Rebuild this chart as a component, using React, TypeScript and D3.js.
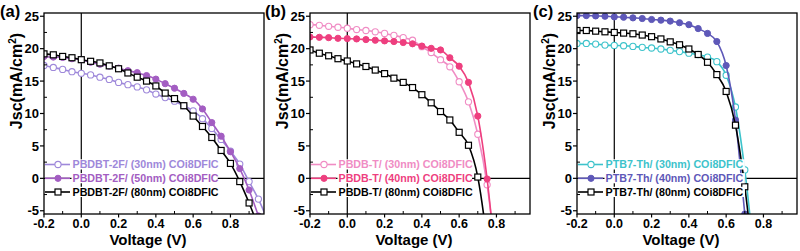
import React from 'react';
import * as d3 from 'd3';

// ---------- DATA ----------
const V_A = [-0.2, -0.15, -0.1, -0.05, 0, 0.05, 0.1, 0.15, 0.2, 0.25, 0.3, 0.35, 0.4, 0.45, 0.5, 0.55, 0.6, 0.65, 0.7, 0.75, 0.8, 0.85, 0.9, 0.95, 1.0];
const J_A30 = [17.4, 17.1, 16.8, 16.45, 16.2, 15.95, 15.6, 15.25, 14.8, 14.45, 14.1, 13.65, 13.0, 12.45, 11.9, 11.2, 10.4, 9.2, 7.7, 6.0, 4.2, 2.2, -0.5, -3.2, -6.5];
const J_A50 = [18.8, 18.7, 18.65, 18.45, 18.3, 17.9, 17.6, 17.3, 17.0, 16.6, 16.3, 15.85, 15.3, 14.6, 13.9, 13.1, 12.2, 10.7, 8.6, 6.5, 4.1, 1.5, -1.8, -5.8, -10.0];
const J_A80 = [19.2, 19.05, 18.8, 18.6, 18.3, 18.05, 17.8, 17.35, 16.9, 16.25, 15.6, 15.0, 14.25, 13.15, 12.3, 11.2, 9.6, 8.0, 6.3, 4.3, 2.3, -0.5, -3.8, -7.5, -11.5];

const V_B = [-0.2, -0.15, -0.1, -0.05, 0, 0.05, 0.1, 0.15, 0.2, 0.25, 0.3, 0.35, 0.4, 0.45, 0.5, 0.55, 0.6, 0.65, 0.7, 0.75, 0.8];
const J_B30 = [23.7, 23.6, 23.45, 23.3, 23.15, 22.95, 22.8, 22.6, 22.35, 22.05, 21.7, 21.3, 20.3, 19.4, 18.3, 17.2, 14.9, 11.8, 6.8, -1.0, -13.0];
const J_B40 = [21.8, 21.75, 21.7, 21.6, 21.55, 21.5, 21.4, 21.3, 21.2, 21.1, 20.95, 20.75, 20.4, 20.05, 19.8, 18.6, 17.3, 14.8, 9.6, -0.1, -14.0];
const J_B80 = [19.8, 19.3, 18.9, 18.45, 18.1, 17.65, 17.25, 16.7, 16.15, 15.45, 14.8, 14.0, 12.9, 11.65, 10.3, 9.0, 7.1, 5.1, 0.2, -10.0, -25.0];

const V_C = [-0.2, -0.15, -0.1, -0.05, 0, 0.05, 0.1, 0.15, 0.2, 0.25, 0.3, 0.35, 0.4, 0.45, 0.5, 0.55, 0.6, 0.65, 0.7, 0.75];
const J_C30 = [20.8, 20.8, 20.7, 20.55, 20.5, 20.45, 20.35, 20.2, 20.1, 19.95, 19.75, 19.55, 19.3, 19.1, 18.7, 18.0, 15.9, 11.0, 1.3, -12.0];
const J_C40 = [25.1, 25.1, 25.05, 25.0, 24.9, 24.85, 24.75, 24.65, 24.5, 24.4, 24.25, 24.0, 23.7, 23.1, 22.35, 21.1, 17.4, 9.0, -5.5, -20.0];
const J_C80 = [22.8, 22.8, 22.7, 22.6, 22.5, 22.4, 22.3, 22.1, 21.85, 21.5, 21.05, 20.6, 19.95, 19.1, 17.9, 16.0, 13.4, 8.2, -1.3, -14.0];

const LABELS_A = ['PBDBT-2F/ (30nm) COi8DFIC', 'PBDBT-2F/ (50nm) COi8DFIC', 'PBDBT-2F/ (80nm) COi8DFIC'];
const LABELS_B = ['PBDB-T/ (30nm) COi8DFIC', 'PBDB-T/ (40nm) COi8DFIC', 'PBDB-T/ (80nm) COi8DFIC'];
const LABELS_C = ['PTB7-Th/ (30nm) COi8DFIC', 'PTB7-Th/ (40nm) COi8DFIC', 'PTB7-Th/ (80nm) COi8DFIC'];

const X_TICKS = [-0.2, 0, 0.2, 0.4, 0.6, 0.8];
const X_MINOR = [-0.1, 0.1, 0.3, 0.5, 0.7, 0.9];
const Y_TICKS = [-5, 0, 5, 10, 15, 20, 25];
const Y_MINOR = [-2.5, 2.5, 7.5, 12.5, 17.5, 22.5];

// ---------- LAYOUT ----------
const W = 800, H = 251;
const TOP = 13, BOTTOM = 214, PW = 220;
const X_DOMAIN: [number, number] = [-0.2, 0.98];
const Y_DOMAIN: [number, number] = [-5.5, 25.5];
const FONT = "'Liberation Sans', Arial, Helvetica, sans-serif";
const LEG_ROWS = [164.5, 178.3, 192];

type Marker = 'openCircle' | 'filledCircle' | 'openSquare';
interface Series { J: number[]; color: string; marker: Marker; label: string; }

const PANELS = [
  {
    left: 44, tag: '(a)', tagX: 0, V: V_A,
    series: [
      { J: J_A30, color: '#9E88DA', marker: 'openCircle', label: LABELS_A[0] },
      { J: J_A50, color: '#A35DC2', marker: 'filledCircle', label: LABELS_A[1] },
      { J: J_A80, color: '#000000', marker: 'openSquare', label: LABELS_A[2] },
    ] as Series[],
  },
  {
    left: 310, tag: '(b)', tagX: 265, V: V_B,
    series: [
      { J: J_B30, color: '#F08CC4', marker: 'openCircle', label: LABELS_B[0] },
      { J: J_B40, color: '#EE3F7F', marker: 'filledCircle', label: LABELS_B[1] },
      { J: J_B80, color: '#000000', marker: 'openSquare', label: LABELS_B[2] },
    ] as Series[],
  },
  {
    left: 577, tag: '(c)', tagX: 533, V: V_C,
    series: [
      { J: J_C30, color: '#3DC3CB', marker: 'openCircle', label: LABELS_C[0] },
      { J: J_C40, color: '#5E58B8', marker: 'filledCircle', label: LABELS_C[1] },
      { J: J_C80, color: '#000000', marker: 'openSquare', label: LABELS_C[2] },
    ] as Series[],
  },
];

function MarkerShape({ type, cx, cy, color }: { type: Marker; cx: number; cy: number; color: string }) {
  if (type === 'openSquare') {
    return <rect x={cx - 3} y={cy - 3} width={6} height={6} fill="#fff" stroke={color} strokeWidth={1.2} />;
  }
  if (type === 'filledCircle') {
    return <circle cx={cx} cy={cy} r={3.1} fill={color} stroke={color} strokeWidth={1} />;
  }
  return <circle cx={cx} cy={cy} r={3.1} fill="#fff" stroke={color} strokeWidth={1.1} />;
}

function Panel({ idx, left, tag, tagX, V, series }: { idx: number; left: number; tag: string; tagX: number; V: number[]; series: Series[] }) {
  const x = d3.scaleLinear().domain(X_DOMAIN).range([left, left + PW]);
  const y = d3.scaleLinear().domain(Y_DOMAIN).range([BOTTOM, TOP]);
  const clipId = `clip-${idx}`;
  const right = left + PW;
  return (
    <g>
      <defs>
        <clipPath id={clipId}>
          <rect x={left} y={TOP} width={PW} height={BOTTOM - TOP} />
        </clipPath>
      </defs>
      {/* zero lines */}
      <line x1={x(0)} x2={x(0)} y1={TOP} y2={BOTTOM} stroke="#000" strokeWidth={1.2} />
      <line x1={left} x2={right} y1={y(0)} y2={y(0)} stroke="#000" strokeWidth={1.2} />

      {/* curves */}
      <g clipPath={`url(#${clipId})`}>
        {series.map((s, si) => {
          const line = d3.line<number>()
            .x((_, i) => x(V[i]))
            .y((d) => y(d))
            .curve(d3.curveMonotoneX);
          return (
            <g key={si}>
              <path d={line(s.J) || ''} fill="none" stroke={s.color} strokeWidth={1.6} />
              {s.J.map((j, i) => (
                <MarkerShape key={i} type={s.marker} cx={x(V[i])} cy={y(j)} color={s.color} />
              ))}
            </g>
          );
        })}
      </g>

      {/* legend */}
      {series.map((s, si) => {
        const ry = LEG_ROWS[si];
        const tx = left + 28.5;
        const tw = s.label.length * 5.85;
        return (
          <g key={si}>
            <rect x={tx - 1} y={ry - 5.2} width={tw} height={10.2} fill="#fff" />
            <line x1={left + 1} x2={left + 26} y1={ry} y2={ry} stroke={s.color} strokeWidth={1.6} />
            <MarkerShape type={s.marker} cx={left + 14} cy={ry} color={s.color} />
            <text x={tx} y={ry + 3.8} fontFamily={FONT} fontWeight="bold" fontSize={10.7} fill={s.color}>{s.label}</text>
          </g>
        );
      })}

      {/* frame */}
      <rect x={left} y={TOP} width={PW} height={BOTTOM - TOP} fill="none" stroke="#000" strokeWidth={1.3} />

      {/* ticks */}
      {X_TICKS.map((t) => (
        <g key={`xt${t}`}>
          <line x1={x(t)} x2={x(t)} y1={BOTTOM} y2={BOTTOM + 3.5} stroke="#000" strokeWidth={1.2} />
          <text x={x(t)} y={227.5} textAnchor="middle" fontFamily={FONT} fontWeight="bold" fontSize={12.5}>{t.toFixed(1)}</text>
        </g>
      ))}
      {X_MINOR.filter((t) => x(t) < right - 1).map((t) => (
        <line key={`xm${t}`} x1={x(t)} x2={x(t)} y1={BOTTOM} y2={BOTTOM - 3} stroke="#000" strokeWidth={1} />
      ))}
      {Y_TICKS.map((t) => (
        <g key={`yt${t}`}>
          <line x1={left - 4} x2={left} y1={y(t)} y2={y(t)} stroke="#000" strokeWidth={1.2} />
          <text x={left - 5} y={y(t) + 4.6} textAnchor="end" fontFamily={FONT} fontWeight="bold" fontSize={13}>{String(t)}</text>
        </g>
      ))}
      {Y_MINOR.map((t) => (
        <line key={`ym${t}`} x1={left} x2={left + 3} y1={y(t)} y2={y(t)} stroke="#000" strokeWidth={1} />
      ))}

      {/* axis titles */}
      <text x={left + PW / 2 - 6} y={245} textAnchor="middle" fontFamily={FONT} fontWeight="bold" fontSize={15}>Voltage (V)</text>
      <text transform={`translate(${left - 22},81) rotate(-90)`} textAnchor="middle" fontFamily={FONT} fontWeight="bold" fontSize={16}>
        Jsc(mA/cm<tspan fontSize={10} dy={-6}>2</tspan><tspan dy={6}>)</tspan>
      </text>

      {/* panel tag */}
      <text x={tagX} y={17} fontFamily={FONT} fontWeight="bold" fontSize={16.5}>{tag}</text>
    </g>
  );
}

export default function App() {
  return (
    <svg width={W} height={H} style={{ position: 'absolute', left: 0, top: 0, background: '#fff' }}>
      <rect x={0} y={0} width={W} height={H} fill="#fff" />
      {PANELS.map((p, i) => (
        <Panel key={i} idx={i} left={p.left} tag={p.tag} tagX={p.tagX} V={p.V} series={p.series} />
      ))}
    </svg>
  );
}
